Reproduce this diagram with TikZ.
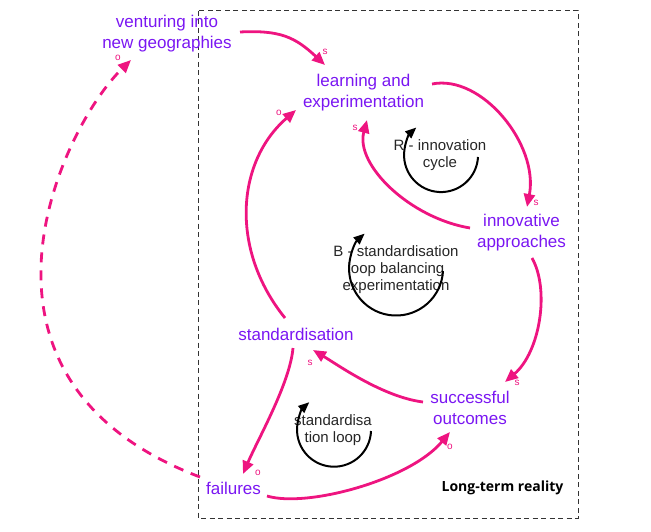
\documentclass[tikz,border=0pt]{standalone}
\usepackage{fontspec}
\setmainfont{Liberation Sans}
\newfontfamily\notefont{Open Sans}
\usepackage{xcolor}
\usepackage{tikz}
\usetikzlibrary{arrows.meta}

\definecolor{causepink}{RGB}{238,20,128}
\definecolor{varpurple}{RGB}{122,22,242}

\begin{document}
\begin{tikzpicture}[
        x=1pt, y=-1pt,
        var/.style={text=varpurple, align=center, inner sep=1pt, font=\fontsize{17}{21}\selectfont},
        looptxt/.style={text=black!85, align=center, inner sep=1pt, font=\fontsize{15}{17}\selectfont},
        pol/.style={text=causepink, inner sep=0pt, font=\fontsize{10}{10}\selectfont},
        link/.style={-{Triangle[length=13pt, width=11pt]}, line width=2.8pt, draw=causepink},
        linkdash/.style={link, dash pattern=on 10pt off 8pt},
        cyc/.style={-{Triangle[length=11pt, width=9pt]}, line width=2pt, draw=black},
    ]
        \useasboundingbox (0,0) rectangle (651,532);

        % Frame
        \draw[black!80, line width=1pt, dash pattern=on 5pt off 3.5pt] (198,11) rectangle (578,518);
        \node[inner sep=1pt, font=\notefont\bfseries\fontsize{14}{16}\selectfont] (reality) at (502.5,488) {Long-term reality};

        % Variables
        \node[var] (venture) at (167,34) {venturing into\\new geographies};
        \node[var] (learn) at (363.5,92.5) {learning and\\experimentation};
        \node[var] (innov) at (521.5,232.5) {innovative\\approaches};
        \node[var] (stand) at (296,334) {standardisation};
        \node[var] (success) at (470,407.5) {successful\\outcomes};
        \node[var] (fail) at (233.5,488) {failures};

        % Loop labels
        \node[looptxt] (rcycle) at (440,155) {R - innovation\\cycle};
        \node[looptxt] (bcycle) at (396,270) {B - standardisation\\loop balancing\\experimentation};
        \node[looptxt] (scycle) at (333,430) {standardisa\\tion loop};

        % Loop arrows
        \draw[cyc] ([shift={(38,2)}]rcycle.center) arc[start angle=3, end angle=228, radius=37];
        \draw[cyc] ([shift={(47,1)}]bcycle.center) arc[start angle=3, end angle=228, radius=47];
        \draw[cyc] ([shift={(38,1)}]scycle.center) arc[start angle=2, end angle=228, radius=37];

        % Links
        \draw[link] ([shift={(73,-2)}]venture.center) .. controls +(40,-2) and +(-30,-28) .. ([shift={(-38.5,-27.5)}]learn.center)
            node[pol, at end, shift={(0,-13)}] {s};
        \draw[link] ([shift={(-11,-16)}]stand.center) .. controls +(-55,-68) and +(-60,52) .. ([shift={(-67.5,17.5)}]learn.center)
            node[pol, at end, shift={(-17,3)}] {o};
        \draw[link] ([shift={(68.5,-8.5)}]learn.center) .. controls +(50,-10) and +(12,-62) .. ([shift={(5.5,-25.5)}]innov.center)
            node[pol, at end, shift={(9,-4)}] {s};
        \draw[link] ([shift={(-51.5,-4.5)}]innov.center) .. controls +(-60,-10) and +(-12,45) .. ([shift={(3.5,27.5)}]learn.center)
            node[pol, at end, shift={(-12,8)}] {s};
        \draw[link] ([shift={(10.5,25.5)}]innov.center) .. controls +(18,32) and +(35,-30) .. ([shift={(35,-25.5)}]success.center)
            node[pol, at end, shift={(12,1)}] {s};
        \draw[link] ([shift={(-47,-5.5)}]success.center) .. controls +(-40,-5) and +(25,15) .. ([shift={(17,16)}]stand.center)
            node[pol, at end, shift={(-3,13)}] {s};
        \draw[link] ([shift={(-3,14)}]stand.center) .. controls +(-3,35) and +(15,-35) .. ([shift={(9.5,-14)}]fail.center)
            node[pol, at end, shift={(15,-1)}] {o};
        \draw[link] ([shift={(33.5,8)}]fail.center) .. controls +(40,12) and +(-40,48) .. ([shift={(-20,24.5)}]success.center)
            node[pol, at end, shift={(0,15)}] {o};
        \draw[linkdash] ([shift={(-33.5,-11)}]fail.center) .. controls +(-258,-98) and +(-70,68) .. ([shift={(-36,26)}]venture.center)
            node[pol, at end, shift={(-13,-2)}] {o};
    \end{tikzpicture}
\end{document}
